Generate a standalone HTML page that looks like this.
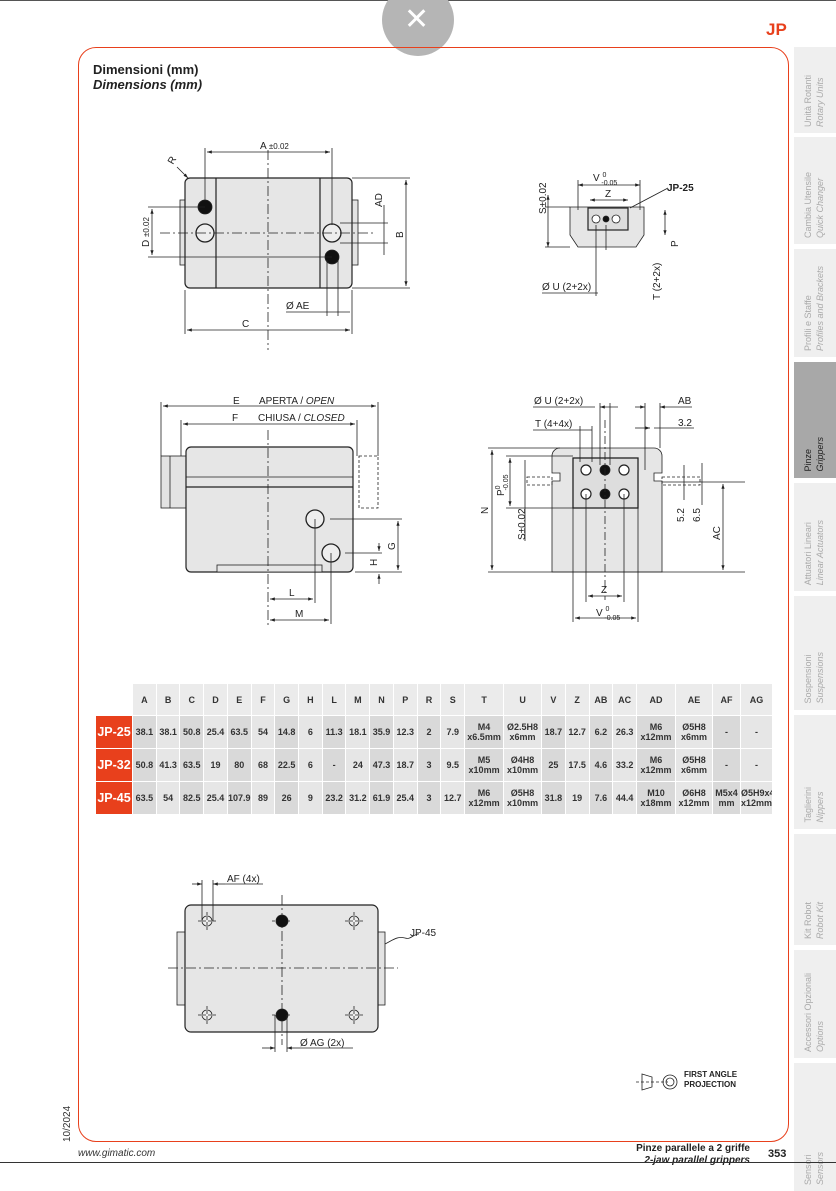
<!DOCTYPE html>
<html><head><meta charset="utf-8"><style>
body{margin:0;width:836px;height:1191px;background:#fff;position:relative;overflow:hidden;font-family:"Liberation Sans",sans-serif}
.t{position:absolute;white-space:nowrap}
table{position:absolute;left:95px;top:683px;width:678px;table-layout:fixed;border-collapse:separate;border-spacing:1px;font-family:"Liberation Sans",sans-serif;font-size:9px;font-weight:bold;color:#333}
td{background:#e6e6e6;text-align:center;padding:0;line-height:10px;overflow:hidden;white-space:nowrap}
tr.h td{height:31px;background:#ebebeb}
tr.r td{height:32px}
tr.r td:nth-child(even){background:#d9d9d9}
td.n{background:#e8401c!important;color:#fff;font-size:12.5px}
.tab{position:absolute;left:794px;width:42px;background:#efefef}
.tab span{position:absolute;left:8px;bottom:6px;writing-mode:vertical-rl;transform:rotate(180deg);font-size:9px;color:#aaa;line-height:12px;white-space:nowrap}
.tab span i{display:block}
</style></head><body>
<div style="position:absolute;left:0;top:0;width:836px;height:1px;background:#555"></div>
<div style="position:absolute;left:382px;top:-16px;width:72px;height:72px;border-radius:50%;background:#b5b5b5"></div>
<div class="t" style="left:404px;top:2px;color:#fff;font-size:30px;line-height:36px">✕</div>
<div class="t" style="left:766px;top:20px;color:#e8401c;font-weight:bold;font-size:17px">JP</div>
<div style="position:absolute;left:78px;top:47px;width:709px;height:1093px;border:1.5px solid #e8401c;border-radius:18px"></div>
<div class="t" style="left:93px;top:62px;font-weight:bold;font-size:13px;line-height:15px;color:#222">Dimensioni (mm)<br><i>Dimensions (mm)</i></div>

<div class="tab" style="top:47px;height:86px"><span>Unità Rotanti<i>Rotary Units</i></span></div>
<div class="tab" style="top:137px;height:107px"><span>Cambia Utensile<i>Quick Changer</i></span></div>
<div class="tab" style="top:249px;height:108px"><span>Profili e Staffe<i>Profiles and Brackets</i></span></div>
<div class="tab" style="top:362px;height:116px;background:#a8a8a8"><span style="color:#222">Pinze<i>Grippers</i></span></div>
<div class="tab" style="top:483px;height:108px"><span>Attuatori Lineari<i>Linear Actuators</i></span></div>
<div class="tab" style="top:596px;height:114px"><span>Sospensioni<i>Suspensions</i></span></div>
<div class="tab" style="top:715px;height:114px"><span>Taglierini<i>Nippers</i></span></div>
<div class="tab" style="top:834px;height:111px"><span>Kit Robot<i>Robot Kit</i></span></div>
<div class="tab" style="top:950px;height:108px"><span>Accessori Opzionali<i>Options</i></span></div>
<div class="tab" style="top:1063px;height:128px"><span>Sensori<i>Sensors</i></span></div>

<svg style="position:absolute;left:0;top:0" width="836" height="1191" font-family="Liberation Sans" font-size="10" fill="none" stroke="#222" stroke-width="1">
<defs><marker id="a" markerWidth="6" markerHeight="6" refX="6" refY="3" orient="auto-start-reverse"><path d="M0,1L6,3L0,5z" fill="#222" stroke="none"/></marker></defs>
<g stroke-width="0.8">
<!-- drawing 1 -->
<rect x="180" y="200" width="7" height="65" fill="#e3e3e3"/><rect x="351" y="200" width="7" height="65" fill="#e3e3e3"/>
<rect x="185" y="178" width="167" height="110" rx="5" fill="#e6e6e6" stroke-width="1.2"/>
<line x1="216" y1="178" x2="216" y2="288" stroke-width="1.2"/><line x1="320" y1="178" x2="320" y2="288" stroke-width="1.2"/>
<circle cx="205" cy="207" r="7" fill="#111"/><circle cx="205" cy="233" r="9" fill="#eee" stroke-width="1.3"/>
<circle cx="332" cy="233" r="9" fill="#eee" stroke-width="1.3"/><circle cx="332" cy="257" r="7" fill="#111"/>
<line x1="268" y1="150" x2="268" y2="350" stroke-dasharray="10,3,2,3"/><line x1="160" y1="233" x2="375" y2="233" stroke-dasharray="10,3,2,3"/>
<line x1="205" y1="148" x2="205" y2="200"/><line x1="332" y1="148" x2="332" y2="225"/>
<line x1="207" y1="152" x2="330" y2="152" marker-start="url(#a)" marker-end="url(#a)"/>
<line x1="352" y1="178" x2="410" y2="178"/><line x1="352" y1="288" x2="410" y2="288"/>
<line x1="406" y1="180" x2="406" y2="286" marker-start="url(#a)" marker-end="url(#a)"/>
<line x1="148" y1="207" x2="205" y2="207"/><line x1="148" y1="257" x2="332" y2="257"/>
<line x1="152" y1="209" x2="152" y2="255" marker-start="url(#a)" marker-end="url(#a)"/>
<line x1="185" y1="290" x2="185" y2="334"/><line x1="352" y1="290" x2="352" y2="334"/>
<line x1="187" y1="330" x2="350" y2="330" marker-start="url(#a)" marker-end="url(#a)"/>
<line x1="327" y1="260" x2="327" y2="316"/><line x1="338" y1="260" x2="338" y2="316"/>
<line x1="286" y1="312" x2="350" y2="312"/>
<line x1="340" y1="223" x2="388" y2="223"/><line x1="340" y1="243" x2="388" y2="243"/><line x1="384" y1="205" x2="384" y2="255"/>
<line x1="177" y1="167" x2="188" y2="178" marker-end="url(#a)"/>
</g>
<g fill="#222" stroke="none">
<text x="260" y="149">A <tspan font-size="8">±0.02</tspan></text>
<text x="242" y="327">C</text><text x="286" y="309">Ø AE</text>
<text x="403" y="238" transform="rotate(-90 403 238)">B</text>
<text x="382" y="207" transform="rotate(-90 382 207)">AD</text>
<text x="149" y="247" transform="rotate(-90 149 247)">D <tspan font-size="8">±0.02</tspan></text>
<text x="173" y="165" transform="rotate(-60 173 165)">R</text>
</g>
<!-- drawing 2 -->
<g stroke-width="0.8">
<path d="M570,207 h74 v28 l-8,12 h-58 l-8,-12z" fill="#e6e6e6"/>
<rect x="588" y="208" width="40" height="22" fill="#ddd" stroke-width="1.2"/>
<circle cx="596" cy="219" r="4" fill="#fff"/><circle cx="606" cy="219" r="3" fill="#111"/><circle cx="616" cy="219" r="4" fill="#fff"/>
<line x1="578" y1="185" x2="640" y2="185" marker-start="url(#a)" marker-end="url(#a)"/>
<line x1="590" y1="200" x2="628" y2="200" marker-start="url(#a)" marker-end="url(#a)"/>
<line x1="578" y1="180" x2="578" y2="210"/><line x1="640" y1="180" x2="640" y2="210"/>
<line x1="548" y1="195" x2="548" y2="247" marker-start="url(#a)" marker-end="url(#a)"/>
<line x1="545" y1="207" x2="570" y2="207"/><line x1="545" y1="247" x2="570" y2="247"/>
<line x1="665" y1="210" x2="665" y2="235" marker-start="url(#a)" marker-end="url(#a)"/>
<line x1="630" y1="208" x2="668" y2="188"/>
<line x1="542" y1="293" x2="598" y2="293"/><line x1="596" y1="225" x2="596" y2="296"/>
<line x1="606" y1="225" x2="606" y2="250"/>
</g>
<g fill="#222" stroke="none">
<text x="593" y="181">V <tspan font-size="7" dy="-4">0</tspan><tspan font-size="7" dx="-5" dy="8">-0.05</tspan></text>
<text x="605" y="197">Z</text><text x="667" y="191" font-weight="bold" font-size="10">JP-25</text>
<text x="542" y="290">Ø U (2+2x)</text>
<text x="546" y="214" transform="rotate(-90 546 214)">S±0.02</text>
<text x="678" y="247" transform="rotate(-90 678 247)">P</text>
<text x="660" y="300" transform="rotate(-90 660 300)">T (2+2x)</text>
</g>
<!-- drawing 3 -->
<g stroke-width="0.8">
<rect x="161" y="456" width="26" height="52" fill="#e3e3e3"/><line x1="170" y1="456" x2="170" y2="508"/>
<rect x="359" y="456" width="19" height="52" stroke-dasharray="3,2"/>
<rect x="186" y="447" width="167" height="125" rx="5" fill="#e6e6e6" stroke-width="1.2"/>
<line x1="186" y1="477" x2="353" y2="477"/><line x1="186" y1="487" x2="353" y2="487" stroke-width="1.2"/>
<rect x="217" y="565" width="105" height="7" fill="#e6e6e6"/>
<circle cx="315" cy="519" r="9" fill="#eee" stroke-width="1.3"/><circle cx="331" cy="553" r="9" fill="#eee" stroke-width="1.3"/>
<line x1="268" y1="430" x2="268" y2="625" stroke-dasharray="10,3,2,3"/>
<line x1="161" y1="402" x2="161" y2="456"/><line x1="378" y1="402" x2="378" y2="456"/>
<line x1="163" y1="406" x2="376" y2="406" marker-start="url(#a)" marker-end="url(#a)"/>
<line x1="181" y1="420" x2="181" y2="456"/><line x1="357" y1="420" x2="357" y2="456"/>
<line x1="183" y1="424" x2="355" y2="424" marker-start="url(#a)" marker-end="url(#a)"/>
<line x1="315" y1="519" x2="315" y2="603"/><line x1="331" y1="553" x2="331" y2="624"/>
<line x1="270" y1="599" x2="313" y2="599" marker-start="url(#a)" marker-end="url(#a)"/>
<line x1="270" y1="620" x2="329" y2="620" marker-start="url(#a)" marker-end="url(#a)"/>
<line x1="330" y1="519" x2="402" y2="519"/><line x1="345" y1="553" x2="382" y2="553"/><line x1="355" y1="572" x2="402" y2="572"/>
<line x1="398" y1="521" x2="398" y2="570" marker-start="url(#a)" marker-end="url(#a)"/>
<line x1="379" y1="543" x2="379" y2="551" marker-end="url(#a)"/><line x1="379" y1="584" x2="379" y2="574" marker-end="url(#a)"/>
</g>
<g fill="#222" stroke="none">
<text x="233" y="404">E</text><text x="259" y="404">APERTA / <tspan font-style="italic">OPEN</tspan></text>
<text x="232" y="421">F</text><text x="258" y="421">CHIUSA / <tspan font-style="italic">CLOSED</tspan></text>
<text x="289" y="596">L</text><text x="295" y="617">M</text>
<text x="395" y="550" transform="rotate(-90 395 550)">G</text>
<text x="377" y="566" transform="rotate(-90 377 566)">H</text>
</g>
<!-- drawing 4 -->
<g stroke-width="0.8">
<path d="M560,448 h94 a8,8 0 0 1 8,8 v17 h-8 v8 h8 v91 h-110 v-91 h8 v-8 h-8 v-17 a8,8 0 0 1 8,-8z" fill="#e6e6e6"/>
<rect x="573" y="458" width="65" height="50" fill="#ddd" stroke-width="1.3"/>
<circle cx="586" cy="470" r="5" fill="#fff" stroke-width="1.2"/><circle cx="605" cy="470" r="5" fill="#111"/><circle cx="624" cy="470" r="5" fill="#fff" stroke-width="1.2"/>
<circle cx="586" cy="494" r="5" fill="#fff" stroke-width="1.2"/><circle cx="605" cy="494" r="5" fill="#111"/><circle cx="624" cy="494" r="5" fill="#fff" stroke-width="1.2"/>
<rect x="662" y="477" width="38" height="8" stroke-dasharray="3,2"/>
<rect x="527" y="477" width="25" height="8" stroke-dasharray="3,2"/>
<line x1="488" y1="448" x2="560" y2="448"/><line x1="488" y1="572" x2="745" y2="572"/>
<line x1="492" y1="450" x2="492" y2="570" marker-start="url(#a)" marker-end="url(#a)"/>
<line x1="506" y1="456" x2="573" y2="456"/><line x1="506" y1="508" x2="573" y2="508"/>
<line x1="510" y1="458" x2="510" y2="506" marker-start="url(#a)" marker-end="url(#a)"/>
<line x1="525" y1="460" x2="525" y2="541"/>
<line x1="662" y1="482" x2="745" y2="482"/>
<line x1="723" y1="484" x2="723" y2="570" marker-start="url(#a)" marker-end="url(#a)"/>
<line x1="684" y1="465" x2="684" y2="500"/><line x1="702" y1="463" x2="702" y2="505"/>
<line x1="573" y1="508" x2="573" y2="622"/><line x1="638" y1="508" x2="638" y2="622"/>
<line x1="586" y1="494" x2="586" y2="602"/><line x1="624" y1="494" x2="624" y2="602"/><line x1="605" y1="420" x2="605" y2="600" stroke-dasharray="8,3,2,3"/>
<line x1="588" y1="596" x2="622" y2="596" marker-start="url(#a)" marker-end="url(#a)"/>
<line x1="575" y1="618" x2="636" y2="618" marker-start="url(#a)" marker-end="url(#a)"/>
<line x1="533" y1="407" x2="595" y2="407"/><line x1="600" y1="407" x2="618" y2="407" marker-start="url(#a)"/>
<line x1="600" y1="403" x2="600" y2="465"/><line x1="610" y1="403" x2="610" y2="465"/>
<line x1="533" y1="430" x2="592" y2="430"/><line x1="580" y1="426" x2="580" y2="462"/><line x1="592" y1="426" x2="592" y2="462"/>
<line x1="635" y1="407" x2="645" y2="407" marker-end="url(#a)"/><line x1="660" y1="407" x2="692" y2="407" marker-start="url(#a)"/>
<line x1="645" y1="403" x2="645" y2="470"/><line x1="660" y1="403" x2="660" y2="448"/>
<line x1="635" y1="428" x2="650" y2="428" marker-end="url(#a)"/><line x1="654" y1="428" x2="694" y2="428"/>
</g>
<g fill="#222" stroke="none">
<text x="534" y="404">Ø U (2+2x)</text><text x="535" y="427">T (4+4x)</text>
<text x="678" y="404">AB</text><text x="678" y="426">3.2</text>
<text x="601" y="593">Z</text>
<text x="596" y="616">V <tspan font-size="7" dy="-5">0</tspan><tspan font-size="7" dx="-5" dy="9">-0.05</tspan></text>
<text x="488" y="514" transform="rotate(-90 488 514)">N</text>
<text x="504" y="496" transform="rotate(-90 504 496)">P<tspan font-size="7" dy="-4">0</tspan><tspan font-size="7" dx="-5" dy="8">-0.05</tspan></text>
<text x="525" y="540" transform="rotate(-90 525 540)">S±0.02</text>
<text x="684" y="522" transform="rotate(-90 684 522)">5.2</text>
<text x="700" y="522" transform="rotate(-90 700 522)">6.5</text>
<text x="720" y="540" transform="rotate(-90 720 540)">AC</text>
</g>
<!-- drawing 5 -->
<g stroke-width="0.8">
<rect x="177" y="932" width="10" height="73" fill="#e3e3e3"/><rect x="376" y="932" width="9" height="73" fill="#e3e3e3"/>
<rect x="185" y="905" width="193" height="127" rx="6" fill="#e6e6e6" stroke-width="1.2"/>
<line x1="168" y1="968" x2="398" y2="968" stroke-dasharray="10,3,2,3"/><line x1="282" y1="895" x2="282" y2="1045" stroke-dasharray="10,3,2,3"/>
<circle cx="207" cy="921" r="5" fill="#eee"/><circle cx="354" cy="921" r="5" fill="#eee"/>
<circle cx="207" cy="1015" r="5" fill="#eee"/><circle cx="354" cy="1015" r="5" fill="#eee"/>
<path d="M198,921h18M207,912v18M345,921h18M354,912v18M198,1015h18M207,1006v18M345,1015h18M354,1006v18M272,921h20M272,1015h20" stroke-dasharray="3,2"/>
<circle cx="282" cy="921" r="6" fill="#111"/><circle cx="282" cy="1015" r="6" fill="#111"/>
<line x1="202" y1="880" x2="202" y2="921"/><line x1="213" y1="880" x2="213" y2="921"/>
<line x1="192" y1="884" x2="202" y2="884" marker-end="url(#a)"/><line x1="225" y1="884" x2="213" y2="884" marker-end="url(#a)"/><line x1="225" y1="884" x2="263" y2="884"/>
<line x1="275" y1="1015" x2="275" y2="1052"/><line x1="287" y1="1015" x2="287" y2="1052"/>
<line x1="262" y1="1048" x2="275" y2="1048" marker-end="url(#a)"/><line x1="300" y1="1048" x2="287" y2="1048" marker-end="url(#a)"/><line x1="300" y1="1048" x2="353" y2="1048"/>
<path d="M385,944 c8,-4 12,-8 20,-6 c6,2 8,-4 14,-4"/>
</g>
<g fill="#222" stroke="none">
<text x="227" y="882">AF  (4x)</text><text x="300" y="1046">Ø  AG  (2x)</text><text x="410" y="936">JP-45</text>
</g>
<!-- projection symbol -->
<g stroke-width="0.8">
<path d="M642,1074 l10,3 v10 l-10,3z"/><line x1="636" y1="1082" x2="668" y2="1082" stroke-dasharray="3,2"/>
<circle cx="670" cy="1082" r="7"/><circle cx="670" cy="1082" r="4"/>
</g>
<text x="684" y="1077" fill="#222" stroke="none" font-size="8" font-weight="bold">FIRST ANGLE</text>
<text x="684" y="1087" fill="#222" stroke="none" font-size="8" font-weight="bold">PROJECTION</text>
<text x="70" y="1142" fill="#333" stroke="none" font-size="10" transform="rotate(-90 70 1142)">10/2024</text>
</svg>

<table>
<colgroup><col style="width:36px"><col span="14"><col style="width:38px"><col style="width:37px"><col span="4"><col style="width:38px"><col style="width:36px"><col style="width:27px"><col style="width:31px"></colgroup>
<tr class="h"><td style="background:#fff"></td><td>A</td><td>B</td><td>C</td><td>D</td><td>E</td><td>F</td><td>G</td><td>H</td><td>L</td><td>M</td><td>N</td><td>P</td><td>R</td><td>S</td><td>T</td><td>U</td><td>V</td><td>Z</td><td>AB</td><td>AC</td><td>AD</td><td>AE</td><td>AF</td><td>AG</td></tr>
<tr class="r"><td class="n">JP-25</td><td>38.1</td><td>38.1</td><td>50.8</td><td>25.4</td><td>63.5</td><td>54</td><td>14.8</td><td>6</td><td>11.3</td><td>18.1</td><td>35.9</td><td>12.3</td><td>2</td><td>7.9</td><td>M4<br>x6.5mm</td><td>Ø2.5H8<br>x6mm</td><td>18.7</td><td>12.7</td><td>6.2</td><td>26.3</td><td>M6<br>x12mm</td><td>Ø5H8<br>x6mm</td><td>-</td><td>-</td></tr>
<tr class="r"><td class="n">JP-32</td><td>50.8</td><td>41.3</td><td>63.5</td><td>19</td><td>80</td><td>68</td><td>22.5</td><td>6</td><td>-</td><td>24</td><td>47.3</td><td>18.7</td><td>3</td><td>9.5</td><td>M5<br>x10mm</td><td>Ø4H8<br>x10mm</td><td>25</td><td>17.5</td><td>4.6</td><td>33.2</td><td>M6<br>x12mm</td><td>Ø5H8<br>x6mm</td><td>-</td><td>-</td></tr>
<tr class="r"><td class="n">JP-45</td><td>63.5</td><td>54</td><td>82.5</td><td>25.4</td><td>107.9</td><td>89</td><td>26</td><td>9</td><td>23.2</td><td>31.2</td><td>61.9</td><td>25.4</td><td>3</td><td>12.7</td><td>M6<br>x12mm</td><td>Ø5H8<br>x10mm</td><td>31.8</td><td>19</td><td>7.6</td><td>44.4</td><td>M10<br>x18mm</td><td>Ø6H8<br>x12mm</td><td>M5x4<br>mm</td><td>Ø5H9x4<br>x12mm</td></tr>
</table>

<div class="t" style="left:78px;top:1148px;font-size:10px;font-style:italic;color:#333">www.gimatic.com</div>
<div class="t" style="left:600px;top:1143px;width:150px;text-align:right;font-size:10px;font-weight:bold;line-height:12px;color:#222">Pinze parallele a 2 griffe<br><i>2-jaw parallel grippers</i></div>
<div class="t" style="left:768px;top:1148px;font-size:11px;font-weight:bold;color:#222">353</div>
<div style="position:absolute;left:0;top:1162px;width:836px;height:1px;background:#333"></div>
</body></html>
